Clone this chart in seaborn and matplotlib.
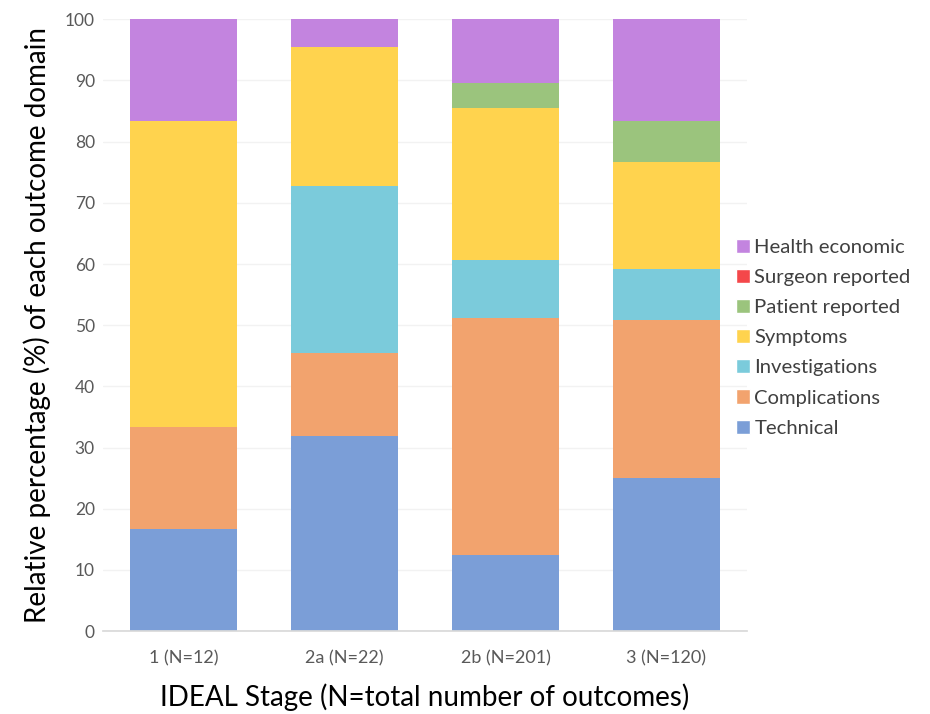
import numpy as np
import pandas as pd
import matplotlib
matplotlib.use("Agg")
import matplotlib.pyplot as plt
import seaborn as sns
from matplotlib.patches import Patch

# IDEAL stages and total number of outcomes per stage
stages = ["1", "2a", "2b", "3"]
totals = [12, 22, 201, 120]
stage_labels = [f"{s} (N={n})" for s, n in zip(stages, totals)]

# Outcome domains, bottom to top of each stacked bar
domains = ["Technical", "Complications", "Investigations", "Symptoms",
           "Patient reported", "Surgeon reported", "Health economic"]

# Number of outcomes in each domain, per stage
technical = [2, 7, 25, 30]
complications = [2, 3, 78, 31]
investigations = [0, 6, 19, 10]
symptoms = [6, 5, 50, 21]
patient_reported = [0, 0, 8, 8]
surgeon_reported = [0, 0, 0, 0]
health_economic = [2, 1, 21, 20]

colors = ["#7B9ED7", "#F2A36E", "#7BCBDB", "#FFD34E",
          "#9BC47D", "#F4474A", "#C384DF"]

counts = np.array([technical, complications, investigations, symptoms,
                   patient_reported, surgeon_reported, health_economic], float)
pct = counts / np.array(totals, float) * 100
tops = np.cumsum(pct, axis=0)

sns.set_theme(style="white")
plt.rcParams["font.family"] = ["Lato", "DejaVu Sans"]

fig = plt.figure(figsize=(9.3, 7.14), dpi=100)
ax = fig.add_axes([0.111, 0.116, 0.692, 0.857])

# Draw cumulative tops from the tallest layer down so each segment shows
for i in range(len(domains) - 1, -1, -1):
    df = pd.DataFrame({"stage": stage_labels, "value": tops[i]})
    sns.barplot(data=df, x="stage", y="value", color=colors[i],
                width=0.665, saturation=1, ax=ax, zorder=2,
                edgecolor="none", linewidth=0)

ax.set_ylim(0, 100)
ax.set_xlim(-0.5, 3.5)
ax.set_yticks(np.arange(0, 101, 10))
ax.yaxis.grid(True, color="#F2F2F2", linewidth=1, zorder=0)
ax.set_axisbelow(True)
for s in ["top", "right", "left"]:
    ax.spines[s].set_visible(False)
ax.spines["bottom"].set_color("#D9D9D9")
ax.tick_params(axis="both", length=0, colors="#595959")
ax.tick_params(axis="x", pad=14, labelsize=13)
ax.tick_params(axis="y", pad=6, labelsize=12.5)

ax.set_xlabel("IDEAL Stage (N=total number of outcomes)", fontsize=20,
              color="#000000", labelpad=12)
ax.set_ylabel("Relative percentage (%) of each outcome domain", fontsize=20,
              color="#000000", labelpad=10)

handles = [Patch(facecolor=colors[i], label=domains[i])
           for i in range(len(domains) - 1, -1, -1)]
leg = fig.legend(handles=handles, loc="center left", bbox_to_anchor=(0.772, 0.527),
                 frameon=False, fontsize=14.6, handlelength=0.7, handleheight=0.7,
                 handletextpad=0.2, labelspacing=0.64)
for t in leg.get_texts():
    t.set_color("#404040")

fig.savefig("out.png", dpi=100)
